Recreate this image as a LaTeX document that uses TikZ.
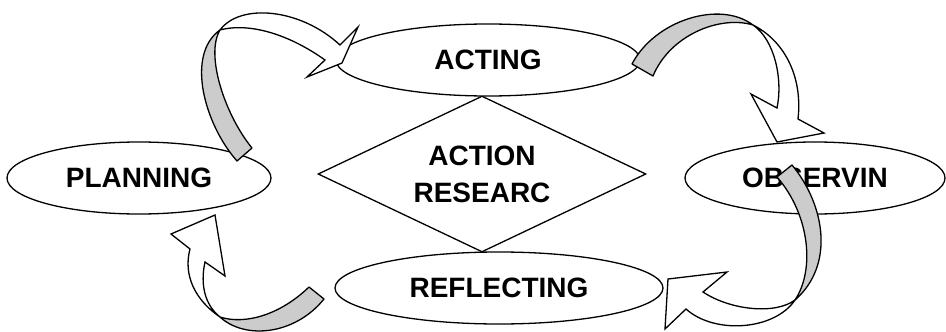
\documentclass[tikz,border=0pt]{standalone}
\usepackage{fontspec}
\setmainfont{Liberation Sans}
\usepackage{tikz}
\usetikzlibrary{shapes.geometric}
\definecolor{bandgrey}{RGB}{204,204,204}
\newcommand{\stagefont}{\fontsize{28}{37}\selectfont\bfseries}

\begin{document}
\begin{tikzpicture}
  [x=1pt,y=-1pt]
      \tikzstyle{stage_style} = [draw=black, fill=white, ellipse, line width=1.3pt, inner sep=0pt, font=\stagefont]
      \tikzstyle{band_style} = [draw=black, fill=bandgrey, line width=1.3pt, line join=round]
      \tikzstyle{face_style} = [draw=black, fill=white, line width=1.3pt, line join=miter]
  \useasboundingbox (0,0) rectangle (946,332);
  \node[draw=black, fill=white, diamond, aspect=2.1, line width=1.3pt, inner sep=0pt, minimum width=328pt, minimum height=156pt, align=center, font=\stagefont] (core) at (482,174) {ACTION\\RESEARC};
  \node[stage_style, minimum width=264pt, minimum height=72pt] (plan) at (139,178) {PLANNING};
  \node[stage_style, minimum width=304pt, minimum height=72pt] (act) at (488,60) {ACTING};
  \node[stage_style, minimum width=260pt, minimum height=72pt] (obs) at (815,178) {OBSERVIN};
  \node[stage_style, minimum width=328pt, minimum height=72pt] (refl) at (499,288) {REFLECTING};
  \filldraw[band_style] (237,161) -- (252,148) .. controls (225,115) and (205,55) .. (220,30) .. controls (185,55) and (205,125) .. (237,161) -- cycle;
  \filldraw[face_style] (220,30) .. controls (240,3) and (300,8) .. (340,45) -- (358,27) -- (342,63) -- (307,77) -- (325,60) .. controls (290,35) and (250,22) .. (220,30) -- cycle;
  \filldraw[band_style] (632,64) .. controls (655,20) and (720,0) .. (753,25) .. controls (720,15) and (670,35) .. (653,76) -- cycle;
  \filldraw[face_style] (753,25) .. controls (783,40) and (803,75) .. (798,119) -- (824,133) -- (777,142) -- (751,94) -- (777,108) .. controls (783,80) and (775,40) .. (753,25) -- cycle;
  \filldraw[band_style] (777,177) -- (792,165) .. controls (825,205) and (835,265) .. (795,300) .. controls (815,270) and (810,215) .. (777,177) -- cycle;
  \filldraw[face_style] (795,300) .. controls (775,330) and (715,335) .. (686,309) -- (665,329) -- (668,279) -- (727,272) -- (703,292) .. controls (730,310) and (775,315) .. (795,300) -- cycle;
  \filldraw[band_style] (309,287) -- (324,299) .. controls (295,335) and (245,340) .. (220,317) .. controls (245,325) and (280,315) .. (309,287) -- cycle;
  \filldraw[face_style] (220,317) .. controls (195,300) and (183,275) .. (190,249) -- (171,234) -- (215,215) -- (225,276) -- (205,262) .. controls (200,285) and (205,305) .. (220,317) -- cycle;
\end{tikzpicture}
\end{document}
